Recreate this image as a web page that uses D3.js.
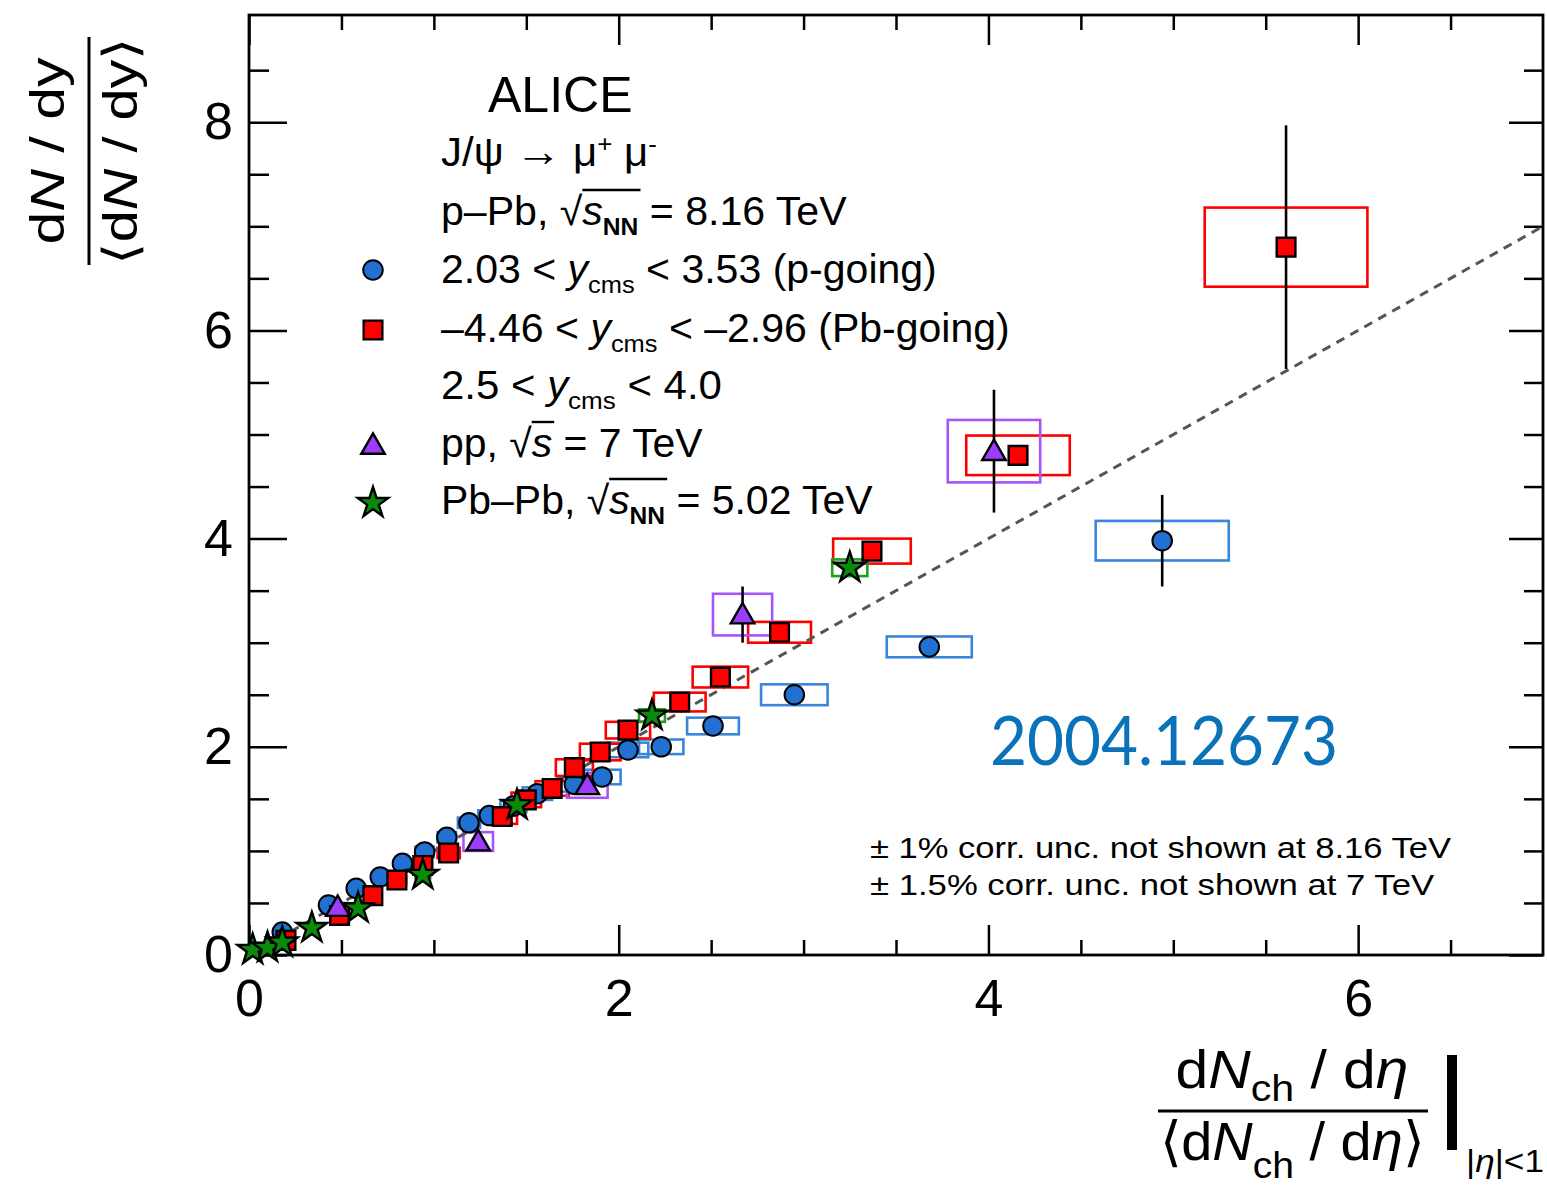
<!DOCTYPE html>
<html><head><meta charset="utf-8">
<script src="https://cdn.jsdelivr.net/npm/d3@7"></script>
<style>html,body{margin:0;padding:0;background:#fff;}svg{display:block;}</style>
</head><body>
<svg id="c" width="1547" height="1188"></svg>
<script>
// ---------- data ----------
const pGoingX  = [0.18,0.43,0.58,0.71,0.83,0.95,1.07,1.19,1.30,1.43,1.56,1.76,1.91,2.05,2.23,2.51,2.95,3.68,4.94];
const pGoingY  = [0.22,0.48,0.64,0.75,0.88,0.99,1.13,1.27,1.34,1.43,1.55,1.64,1.71,1.97,2.00,2.20,2.50,2.96,3.98];
const pGoingEy = [0.02,0.02,0.02,0.02,0.02,0.02,0.02,0.02,0.02,0.03,0.03,0.03,0.03,0.03,0.04,0.04,0.05,0.06,0.44];
const pGoingSx = [0.02,0.03,0.03,0.04,0.04,0.05,0.05,0.06,0.06,0.07,0.08,0.09,0.10,0.11,0.12,0.14,0.18,0.23,0.36];
const pGoingSy = [0.02,0.03,0.03,0.04,0.04,0.05,0.05,0.05,0.05,0.06,0.06,0.07,0.07,0.07,0.07,0.08,0.10,0.10,0.19];

const pbGoingX  = [0.20,0.49,0.67,0.80,0.94,1.08,1.37,1.50,1.64,1.76,1.90,2.05,2.33,2.55,2.87,3.37,4.16,5.61];
const pbGoingY  = [0.14,0.38,0.57,0.72,0.86,0.98,1.33,1.49,1.60,1.80,1.95,2.16,2.43,2.67,3.10,3.88,4.80,6.80];
const pbGoingEy = [0.02,0.02,0.02,0.02,0.02,0.03,0.03,0.03,0.03,0.03,0.03,0.04,0.04,0.05,0.06,0.07,0.10,1.17];
const pbGoingSx = [0.02,0.03,0.04,0.05,0.05,0.06,0.08,0.08,0.09,0.10,0.11,0.12,0.14,0.15,0.17,0.21,0.28,0.44];
const pbGoingSy = [0.02,0.03,0.04,0.04,0.05,0.05,0.07,0.07,0.07,0.08,0.08,0.08,0.09,0.10,0.10,0.12,0.19,0.38];

const ppX  = [0.48,1.24,1.83,2.67,4.03];
const ppY  = [0.46,1.09,1.63,3.27,4.84];
const ppEy = [0.03,0.05,0.08,0.27,0.59];
const ppSx = [0.05,0.08,0.11,0.16,0.25];
const ppSy = [0.04,0.09,0.12,0.20,0.30];

const pbpbX  = [0.02,0.10,0.18,0.34,0.59,0.94,1.45,2.18,3.25];
const pbpbY  = [0.05,0.07,0.12,0.26,0.45,0.77,1.44,2.30,3.72];
const pbpbEy = [0.01,0.01,0.01,0.02,0.02,0.03,0.03,0.05,0.07];
const pbpbSx = [0.01,0.01,0.02,0.02,0.03,0.04,0.05,0.07,0.095];
const pbpbSy = [0.01,0.01,0.02,0.02,0.03,0.03,0.05,0.06,0.08];

const refLine = [[0,0],[7,7]];
const xMajorTicks = [0,2,4,6];
const xMinorTicks = [0.5,1,1.5,2.5,3,3.5,4.5,5,5.5,6.5];
const yMajorTicks = [0,2,4,6,8];
const yMinorTicks = [0.5,1,1.5,2.5,3,3.5,4.5,5,5.5,6.5,7,7.5,8.5];

// ---------- layout ----------
const L = 249, R = 1543, T = 15, B = 955;
const x = d3.scaleLinear().domain([0,7]).range([L,R]);
const y = d3.scaleLinear().domain([0,9.03]).range([B,T]);
const svg = d3.select("#c");
const FONT = "'Liberation Sans', Arial, Helvetica, sans-serif";

const C_BLUE = "#2170d2", C_BLUEBOX = "#3a85dc";
const C_RED = "#ff0000";
const C_PURPLE = "#9b3dfa", C_PURPLEBOX = "#a855f7";
const C_GREEN = "#0a8a0a", C_GREENBOX = "#1fa01f";

function zip(xs, ys, eys, sxs, sys){ return xs.map((v,i)=>({x:v,y:ys[i],ey:eys[i],sx:sxs[i],sy:sys[i]})); }
const series = [
  {name:"p", data:zip(pGoingX,pGoingY,pGoingEy,pGoingSx,pGoingSy), fill:C_BLUE, box:C_BLUEBOX, sym:"circle"},
  {name:"pb", data:zip(pbGoingX,pbGoingY,pbGoingEy,pbGoingSx,pbGoingSy), fill:C_RED, box:C_RED, sym:"square"},
  {name:"pp", data:zip(ppX,ppY,ppEy,ppSx,ppSy), fill:C_PURPLE, box:C_PURPLEBOX, sym:"triangle"},
  {name:"pbpb", data:zip(pbpbX,pbpbY,pbpbEy,pbpbSx,pbpbSy), fill:C_GREEN, box:C_GREENBOX, sym:"star"}
];

// ---------- axes (ticks on all four sides) ----------
function tickAxis(axisFn, scale, values, size, labels){
  const a = axisFn(scale).tickValues(values).tickSizeInner(size).tickSizeOuter(0);
  if(labels){ a.tickPadding(labels.pad).tickFormat(d3.format("d")); } else { a.tickFormat(""); }
  return a;
}
const gAx = svg.append("g");
gAx.append("g").attr("transform",`translate(${L},0)`).call(tickAxis(d3.axisLeft,y,yMajorTicks,-38,{pad:16}));
gAx.append("g").attr("transform",`translate(${L},0)`).call(tickAxis(d3.axisLeft,y,yMinorTicks,-20));
gAx.append("g").attr("transform",`translate(${R},0)`).call(tickAxis(d3.axisRight,y,yMajorTicks,-34));
gAx.append("g").attr("transform",`translate(${R},0)`).call(tickAxis(d3.axisRight,y,yMinorTicks,-19));
gAx.append("g").attr("transform",`translate(0,${B})`).call(tickAxis(d3.axisBottom,x,xMajorTicks,-30,{pad:24}));
gAx.append("g").attr("transform",`translate(0,${B})`).call(tickAxis(d3.axisBottom,x,xMinorTicks,-15));
gAx.append("g").attr("transform",`translate(0,${T})`).call(tickAxis(d3.axisTop,x,xMajorTicks,-30));
gAx.append("g").attr("transform",`translate(0,${T})`).call(tickAxis(d3.axisTop,x,xMinorTicks,-15));
gAx.selectAll(".domain").remove();
gAx.selectAll(".tick line").attr("stroke","#000").attr("stroke-width",2.5);
gAx.selectAll(".tick text").attr("font-family",FONT).attr("font-size",52).attr("fill","#000");
svg.append("rect").attr("x",L).attr("y",T).attr("width",R-L).attr("height",B-T)
  .attr("fill","none").attr("stroke","#000").attr("stroke-width",2.8);

// ---------- systematic boxes ----------
const gBox = svg.append("g");
series.forEach(s=>{
  gBox.selectAll(null).data(s.data).enter().append("rect")
    .attr("x",d=>x(d.x-d.sx)).attr("y",d=>y(d.y+d.sy))
    .attr("width",d=>x(d.x+d.sx)-x(d.x-d.sx)).attr("height",d=>y(d.y-d.sy)-y(d.y+d.sy))
    .attr("fill","none").attr("stroke",s.box).attr("stroke-width",2.6);
});

// ---------- reference line y = x ----------
svg.append("path").datum(refLine)
  .attr("d",d3.line().x(d=>x(d[0])).y(d=>y(d[1])))
  .attr("stroke","#555").attr("stroke-width",3).attr("stroke-dasharray","9,7").attr("fill","none");

// ---------- error bars ----------
const gErr = svg.append("g");
series.forEach(s=>{
  gErr.selectAll(null).data(s.data).enter().append("line")
    .attr("x1",d=>x(d.x)).attr("x2",d=>x(d.x))
    .attr("y1",d=>y(d.y-d.ey)).attr("y2",d=>y(d.y+d.ey))
    .attr("stroke","#000").attr("stroke-width",2.6);
});

// ---------- markers ----------
const symPath = {
  circle: d3.symbol(d3.symbolCircle, 300)(),
  square: d3.symbol(d3.symbolSquare, 350)(),
  triangle: d3.symbol(d3.symbolTriangle, 240)(),
  star: d3.symbol(d3.symbolStar, 290)()
};
function marker(g, sym, fill){
  return g.append("path").attr("d",symPath[sym]).attr("fill",fill)
    .attr("stroke","#000").attr("stroke-width",sym==="circle"?2:2.4).attr("stroke-linejoin","miter");
}
const gMk = svg.append("g");
series.forEach(s=>{
  s.data.forEach(d=>{
    marker(gMk, s.sym, s.fill).attr("transform",`translate(${x(d.x)},${y(d.y)})${s.sym==="triangle"?" translate(0,2)":""}`);
  });
});

// ---------- rich text helpers ----------
function rich(parent, px, py, parts, size, opts={}){
  const g = parent.append("g");
  const t = g.append("text").attr("x",px).attr("y",py)
    .attr("font-family",opts.font||FONT).attr("font-size",size).attr("fill","#000")
    .attr("text-anchor",opts.anchor||"start");
  let shift = 0;
  parts.forEach(p=>{
    const o = (typeof p === "string") ? {t:p} : p;
    const ts = t.append("tspan").text(o.t);
    let target = 0, fs = size*(o.scale||1);
    if(o.sub){ target = o.sub; fs = size*(o.fs||0.72); }
    if(o.sup){ target = -o.sup; fs = size*(o.fs||0.72); }
    ts.attr("font-size",fs);
    if(o.i) ts.attr("font-style","italic");
    if(o.b) ts.attr("font-weight","bold");
    if(o.cls) ts.attr("class",o.cls);
    ts.attr("dy", target - shift); shift = target;
  });
  return g;
}
function overline(g, cls){
  const nodes = g.selectAll("tspan."+cls).nodes();
  if(!nodes.length) return;
  let x0=Infinity,x1=-Infinity,y0=Infinity;
  nodes.forEach(n=>{const b=n.getBBox(); x0=Math.min(x0,b.x); x1=Math.max(x1,b.x+b.width); y0=Math.min(y0,b.y);});
  g.append("line").attr("x1",x0).attr("x2",x1+2).attr("y1",y0+1).attr("y2",y0+1)
    .attr("stroke","#000").attr("stroke-width",2.4);
}
function fit(g, target, mode){
  const b = g.node().getBBox();
  const s = target / b.width;
  const ax = mode==="middle" ? b.x + b.width/2 : b.x;
  g.attr("transform",`translate(${ax},0) scale(${s},1) translate(${-ax},0)`);
  return g;
}

// ---------- legend / labels ----------
const gL = svg.append("g");
const LS = 40, LX = 441;
rich(gL, 488, 112, ["ALICE"], 50);
fit(rich(gL, LX, 166, ["J/ψ ", {t:"→",scale:1.1}, " μ", {t:"+",sup:14,fs:0.62}, " μ", {t:"-",sup:14,fs:0.62}], LS), 216);
const t1 = rich(gL, LX, 225, ["p–Pb, √", {t:"s",i:true,cls:"r1"}, {t:"NN",sub:10,b:true,fs:0.6,cls:"r1"}, " = 8.16 TeV"], LS);
overline(t1,"r1"); fit(t1, 406);
fit(rich(gL, LX, 283, ["2.03 < ", {t:"y",i:true}, {t:"cms",sub:10,fs:0.62}, " < 3.53 (p-going)"], LS), 496);
fit(rich(gL, LX, 342, ["–4.46 < ", {t:"y",i:true}, {t:"cms",sub:10,fs:0.62}, " < –2.96 (Pb-going)"], LS), 569);
fit(rich(gL, LX, 399, ["2.5 < ", {t:"y",i:true}, {t:"cms",sub:10,fs:0.62}, " < 4.0"], LS), 281);
const t2 = rich(gL, LX, 457, ["pp, √", {t:"s",i:true,cls:"r2"}, " = 7 TeV"], LS);
overline(t2,"r2"); fit(t2, 262);
const t3 = rich(gL, LX, 514, ["Pb–Pb, √", {t:"s",i:true,cls:"r3"}, {t:"NN",sub:10,b:true,fs:0.6,cls:"r3"}, " = 5.02 TeV"], LS);
overline(t3,"r3"); fit(t3, 432);

marker(gL,"circle",C_BLUE).attr("transform","translate(373,270)");
marker(gL,"square",C_RED).attr("transform","translate(373,330)");
marker(gL,"triangle",C_PURPLE).attr("transform","translate(373,447)");
marker(gL,"star",C_GREEN).attr("transform","translate(373,503)");

// notes
fit(rich(svg, 870, 858, ["± 1% corr. unc. not shown at 8.16 TeV"], 29), 582);
fit(rich(svg, 870, 895, ["± 1.5% corr. unc. not shown at 7 TeV"], 29), 565);

// arXiv id
const gA = svg.append("g");
gA.append("text").attr("x",990).attr("y",765).attr("font-family","Lato, 'Open Sans', sans-serif")
  .attr("font-size",68).attr("fill","#0a72b8").text("2004.12673");
fit(gA, 348);

// y-axis title (rotated fraction)
const yNum = svg.append("g").attr("transform","translate(64,151) rotate(-90)");
fit(rich(yNum, 0, 0, ["d", {t:"N",i:true}, " / dy"], 48, {anchor:"middle"}), 187, "middle");
const yDen = svg.append("g").attr("transform","translate(137,151) rotate(-90)");
fit(rich(yDen, 0, 0, ["⟨d", {t:"N",i:true}, " / dy⟩"], 48, {anchor:"middle"}), 228, "middle");
svg.append("line").attr("x1",89).attr("x2",89).attr("y1",37).attr("y2",265).attr("stroke","#000").attr("stroke-width",3);

// x-axis title
fit(rich(svg, 1292, 1088, ["d", {t:"N",i:true}, {t:"ch",sub:13,fs:0.7}, " / d", {t:"η",i:true}], 54, {anchor:"middle"}), 233, "middle");
svg.append("line").attr("x1",1158).attr("x2",1428).attr("y1",1111).attr("y2",1111).attr("stroke","#000").attr("stroke-width",3);
fit(rich(svg, 1292, 1160, ["⟨d", {t:"N",i:true}, {t:"ch",sub:18,fs:0.7}, " / d", {t:"η",i:true}, "⟩"], 54, {anchor:"middle"}), 265, "middle");
svg.append("rect").attr("x",1447).attr("y",1055).attr("width",10).attr("height",95).attr("fill","#000");
fit(rich(svg, 1466, 1172, ["|", {t:"η",i:true}, "|<1"], 32), 78);
</script>
</body></html>
